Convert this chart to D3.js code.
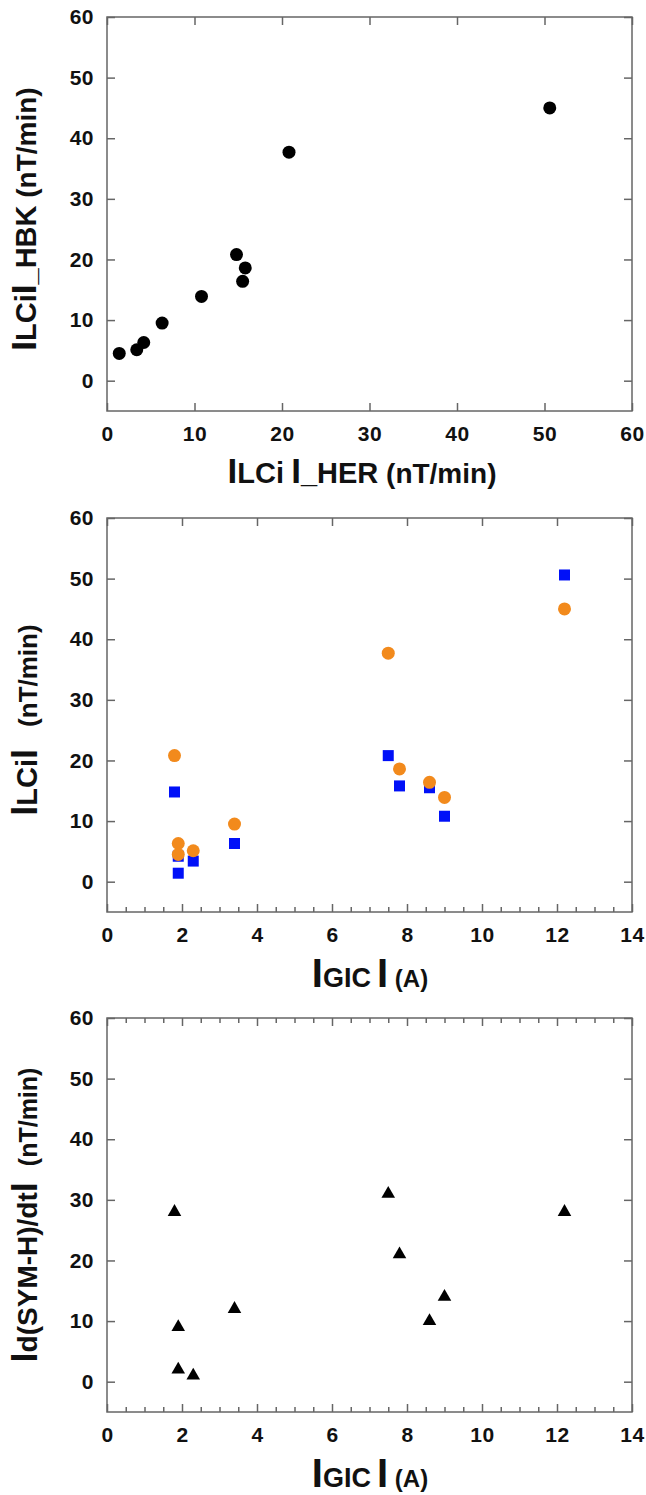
<!DOCTYPE html>
<html>
<head>
<meta charset="utf-8">
<script src="https://cdn.jsdelivr.net/npm/d3@7"></script>
<style>
  body { margin: 0; background: #fff; }
  text { font-family: "Liberation Sans", Arial, sans-serif; font-weight: bold; fill: #111; }
</style>
</head>
<body>
<div id="chart"></div>
<script>
// event values, ordered by GIC amplitude
const gic = [1.8, 1.9, 1.9, 2.3, 3.4, 7.5, 7.8, 8.6, 9.0, 12.2]
const lciHer = [14.8, 4.2, 1.4, 3.4, 6.3, 20.8, 15.8, 15.5, 10.8, 50.6]
const lciHbk = [20.8, 6.3, 4.5, 5.1, 9.5, 37.7, 18.6, 16.4, 13.9, 45.0]
const dSymH = [28, 9, 2, 1, 12, 31, 21, 10, 14, 28]

const yTickValues = [0, 10, 20, 30, 40, 50, 60]
const xTicksLci = [0, 10, 20, 30, 40, 50, 60]
const xTicksGic = [0, 2, 4, 6, 8, 10, 12, 14]

const width = 646
const height = 1495
const frameLeft = 107
const frameRight = 632
const frameH = 394
const frameColor = '#666'

const svg = d3.select('#chart')
    .append('svg')
    .attr('width', width)
    .attr('height', height)

svg.append('rect').attr('width', width).attr('height', height).attr('fill', '#fff')

function styleAxis(sel) {
    sel.attr('font-family', null)
    sel.select('.domain').remove()
    sel.selectAll('.tick line').attr('stroke', frameColor).attr('stroke-width', 1.5)
    sel.selectAll('.tick text')
        .style('font-size', '21px')
        .style('letter-spacing', '0.5px')
        .attr('fill', '#111')
}

function drawPanel(top, xTicks, minorBottom, minorTop) {
    const w = frameRight - frameLeft
    const g = svg.append('g').attr('transform', `translate(${frameLeft},${top})`)
    const xMax = xTicks[xTicks.length - 1]
    const x = d3.scaleLinear().domain([0, xMax]).range([0, w])
    const y = d3.scaleLinear().domain([-5, 60]).range([frameH, 0])

    // left + right axes
    g.append('g')
        .call(d3.axisLeft(y).tickValues(yTickValues).tickSize(-8).tickPadding(13))
        .call(styleAxis)
    g.append('g')
        .attr('transform', `translate(${w},0)`)
        .call(d3.axisRight(y).tickValues(yTickValues).tickSize(-8).tickFormat(''))
        .call(styleAxis)

    // bottom + top axes
    g.append('g')
        .attr('transform', `translate(0,${frameH})`)
        .call(d3.axisBottom(x).tickValues(xTicks).tickSize(-8).tickPadding(15))
        .call(styleAxis)
    g.append('g')
        .call(d3.axisTop(x).tickValues(xTicks).tickSize(-8).tickFormat(''))
        .call(styleAxis)

    const minor = d3.range(0.5, xMax, 0.5).filter(v => !xTicks.includes(v))
    if (minorBottom) {
        g.append('g')
            .attr('transform', `translate(0,${frameH})`)
            .call(d3.axisBottom(x).tickValues(minor).tickSize(-5).tickFormat(''))
            .call(styleAxis)
    }
    if (minorTop) {
        g.append('g')
            .call(d3.axisTop(x).tickValues(minor).tickSize(-5).tickFormat(''))
            .call(styleAxis)
    }

    g.append('rect')
        .attr('width', w)
        .attr('height', frameH)
        .attr('fill', 'none')
        .attr('stroke', frameColor)
        .attr('stroke-width', 1.5)

    return {g, x, y}
}

// text with mixed font sizes, parts = [[text, size, dx], ...]
function mixedText(parent, parts) {
    const t = parent.append('text').attr('text-anchor', 'middle')
    parts.forEach(p => {
        const s = t.append('tspan').style('font-size', p[1] + 'px').text(p[0])
        if (p[2]) s.attr('dx', p[2])
    })
    return t
}

// ---- Panel 1: HBK vs HER
const p1 = drawPanel(17, xTicksLci, false, false)
p1.g.selectAll('circle.hbk')
    .data(lciHer.map((d, i) => ({x: d, y: lciHbk[i]})))
    .join('circle')
    .attr('cx', d => p1.x(d.x))
    .attr('cy', d => p1.y(d.y))
    .attr('r', 6.5)
    .attr('fill', '#000')

mixedText(svg.append('g').attr('transform', 'translate(362,483)'),
    [['I', 35], ['LCi', 29], [' ', 26], ['I', 35], ['_HER', 29], [' (nT/min)', 28]])
mixedText(svg.append('g').attr('transform', 'translate(36,219) rotate(-90)'),
    [['I', 35], ['LCi', 29], ['I', 35], ['_HBK', 29], [' (nT/min)', 28]])

// ---- Panel 2: LCi vs GIC
const p2 = drawPanel(518, xTicksGic, true, false)
const sq = 11
p2.g.selectAll('rect.her')
    .data(gic.map((d, i) => ({x: d, y: lciHer[i]})))
    .join('rect')
    .attr('x', d => p2.x(d.x) - sq / 2)
    .attr('y', d => p2.y(d.y) - sq / 2)
    .attr('width', sq)
    .attr('height', sq)
    .attr('fill', '#0010f8')
p2.g.selectAll('circle.hbk')
    .data(gic.map((d, i) => ({x: d, y: lciHbk[i]})))
    .join('circle')
    .attr('cx', d => p2.x(d.x))
    .attr('cy', d => p2.y(d.y))
    .attr('r', 6.5)
    .attr('fill', '#f28a1c')

mixedText(svg.append('g').attr('transform', 'translate(370,987)'),
    [['I', 40], ['GIC', 27], [' ', 22], ['I', 40], [' (A)', 24]])
mixedText(svg.append('g').attr('transform', 'translate(37,720) rotate(-90)'),
    [['I', 36], ['LCi', 29], ['I', 36], ['(nT/min)', 26, 22]])

// ---- Panel 3: d(SYM-H)/dt vs GIC
const p3 = drawPanel(1018, xTicksGic, true, true)
const tri = d3.symbol().type(d3.symbolTriangle).size(80)
p3.g.selectAll('path.sym')
    .data(gic.map((d, i) => ({x: d, y: dSymH[i]})))
    .join('path')
    .attr('d', tri)
    .attr('transform', d => `translate(${p3.x(d.x)},${p3.y(d.y)})`)
    .attr('fill', '#000')

mixedText(svg.append('g').attr('transform', 'translate(370,1487)'),
    [['I', 40], ['GIC', 27], [' ', 22], ['I', 40], [' (A)', 24]])
mixedText(svg.append('g').attr('transform', 'translate(37,1215) rotate(-90)'),
    [['I', 36], ['d(SYM-H)/dt', 28], ['I', 36], ['(nT/min)', 25, 16]])
</script>
</body>
</html>
